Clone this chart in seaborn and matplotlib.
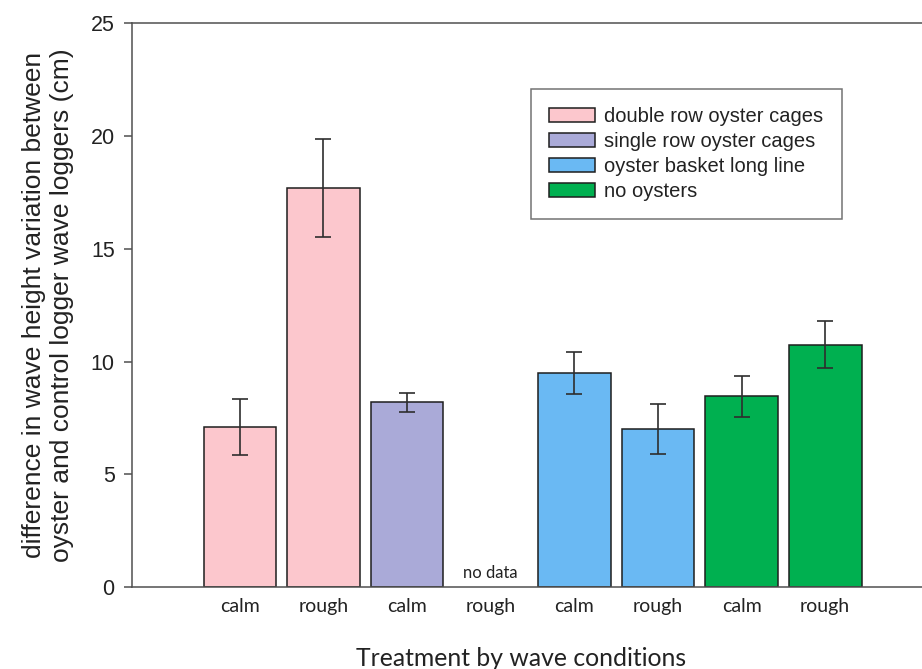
import numpy as np
import pandas as pd
import matplotlib
matplotlib.use("Agg")
import matplotlib.pyplot as plt
import seaborn as sns

# Treatment groups and wave conditions
treatments = ["double row oyster cages", "single row oyster cages",
              "oyster basket long line", "no oysters"]
group = [treatments[0], treatments[0], treatments[1], treatments[1],
         treatments[2], treatments[2], treatments[3], treatments[3]]
conditions = ["calm", "rough", "calm", "rough", "calm", "rough", "calm", "rough"]

# Mean difference in wave height variation (cm) and standard error
means = [7.10, 17.70, 8.19, np.nan, 9.48, 7.01, 8.46, 10.75]
errors = [1.26, 2.17, 0.43, np.nan, 0.94, 1.10, 0.90, 1.05]

colors = ["#fcc7cd", "#aaaad8", "#6ab9f3", "#00b050"]
yticks = [0, 5, 10, 15, 20, 25]

sns.set_style("ticks")
plt.rcParams["font.family"] = ["Liberation Sans", "DejaVu Sans"]

slots = [str(i) for i in range(len(conditions))]
df = pd.DataFrame({"slot": slots, "treatment": group,
                   "condition": conditions, "value": means, "err": errors})

fig = plt.figure(figsize=(9.22, 6.69), dpi=100)
# the plotting area runs on past the right edge of the figure
ax = fig.add_axes([0.1432, 0.1226, 0.871, 0.8423])

sns.barplot(data=df.dropna(), x="slot", y="value", hue="treatment",
            order=slots, hue_order=treatments, palette=colors,
            dodge=False, width=0.87, saturation=1, errorbar=None,
            edgecolor="#1e1e1e", linewidth=1.1, ax=ax)

ax.errorbar(np.arange(len(means)), means, yerr=errors, fmt="none",
            ecolor="#2e2e2e", elinewidth=1.2, capsize=6, capthick=1.2)

ax.text(3, 0.62, "no data", ha="center", va="center",
        fontsize=12, family="Lato", color="#222222")

ax.set_xlim(-1.29, 8.315)
ax.set_ylim(0, 25)
ax.set_yticks(yticks)
ax.set_xticks(range(len(conditions)))
ax.set_xticklabels(conditions, family="Lato", fontsize=14, color="#222222")
ax.tick_params(axis="x", length=0, pad=8)
ax.tick_params(axis="y", length=6, width=1.1, color="#505050",
               labelsize=15.5, labelcolor="#222222", pad=6.5)

for side in ["left", "bottom", "top"]:
    ax.spines[side].set_color("#505050")
    ax.spines[side].set_linewidth(1.1)
ax.spines["right"].set_visible(False)

ax.set_ylabel("difference in wave height variation between\n"
              "oyster and control logger wave loggers (cm)",
              fontsize=19, color="#222222", linespacing=1.2, labelpad=12)
ax.set_xlabel("Treatment by wave conditions", family="Lato",
              fontsize=17.8, color="#222222")
ax.xaxis.set_label_coords((521 - 132) / 803, -0.1065)

handles, labels = ax.get_legend_handles_labels()
leg = ax.legend(handles, labels, loc="upper left",
                bbox_to_anchor=(0.4968, 0.8838), borderaxespad=0,
                fontsize=14.5, frameon=True, fancybox=False,
                edgecolor="#505050", handlelength=2.3, handleheight=0.7,
                handletextpad=0.45, labelspacing=0.3, borderpad=0.9,
                labelcolor="#222222")
leg.get_frame().set_linewidth(1.1)

fig.savefig("out.png", dpi=100)
